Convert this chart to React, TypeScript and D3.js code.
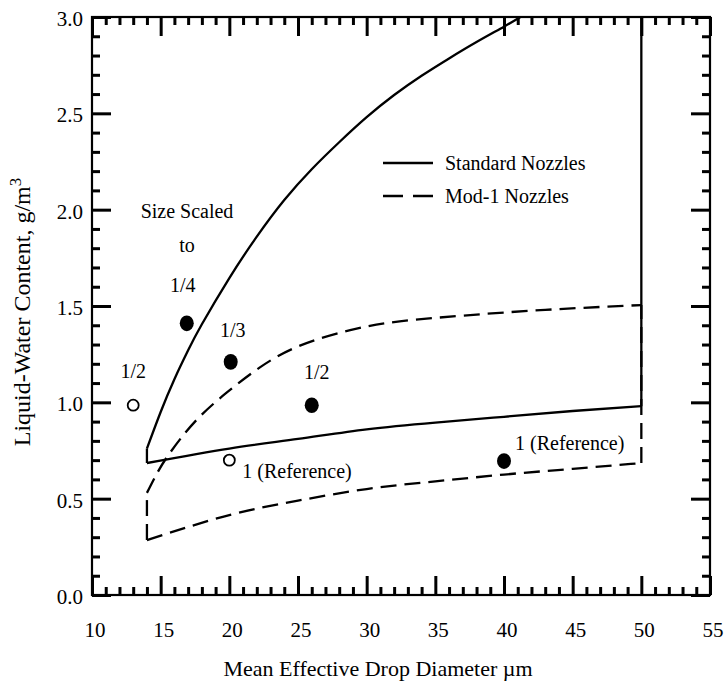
import React from "react";
import * as d3 from "d3";

// Standard nozzles envelope
const stdUpperX = [14, 15, 16, 17, 18, 20, 22, 24, 26, 28, 30, 32, 34, 36, 38, 40, 41.2];
const stdUpperY = [0.76, 0.95, 1.12, 1.27, 1.405, 1.645, 1.86, 2.05, 2.21, 2.35, 2.48, 2.595, 2.695, 2.785, 2.87, 2.95, 3.0];
const stdLowerX = [14, 20, 25, 30, 35, 40, 45, 50];
const stdLowerY = [0.685, 0.76, 0.81, 0.86, 0.895, 0.925, 0.955, 0.98];

// Mod-1 nozzles envelope
const modUpperX = [14, 14.8, 15.7, 17.5, 19.8, 22.2, 25, 28.8, 32.4, 37, 43, 50];
const modUpperY = [0.53, 0.64, 0.74, 0.9, 1.05, 1.18, 1.29, 1.375, 1.42, 1.45, 1.48, 1.505];
const modLowerX = [14, 20, 25, 30, 35, 40, 45, 50];
const modLowerY = [0.285, 0.415, 0.49, 0.55, 0.59, 0.625, 0.655, 0.685];

// Size-scaled test points
const openX = [13.0, 20.0];
const openY = [0.985, 0.7];
const openLabels = ["1/2", "1 (Reference)"];
const filledX = [16.9, 20.1, 26.0, 40.0];
const filledY = [1.41, 1.21, 0.985, 0.695];
const filledLabels = ["1/4", "1/3", "1/2", "1 (Reference)"];

const xTickLabels = ["10", "15", "20", "25", "30", "35", "40", "45", "50", "55"];
const yTickLabels = ["0.0", "0.5", "1.0", "1.5", "2.0", "2.5", "3.0"];

const W = 727;
const H = 687;
const M = { left: 92, right: 710, top: 17, bottom: 595 };
const FONT = "'Liberation Serif', 'Times New Roman', serif";

// label placement relative to each marker: [dx, dy, anchor]
const openLabelPos: [number, number, string][] = [
  [0, -27, "middle"],
  [13, 18, "start"],
];
const filledLabelPos: [number, number, string][] = [
  [-4, -31, "middle"],
  [2, -25, "middle"],
  [5, -26, "middle"],
  [11, -11, "start"],
];

export default function App() {
  const x = d3.scaleLinear().domain([10, 55]).range([M.left, M.right]);
  const y = d3.scaleLinear().domain([0, 3]).range([M.bottom, M.top]);

  const curve = (xs: number[], ys: number[]) =>
    d3
      .line<number>()
      .x((_, i) => x(xs[i]))
      .y((_, i) => y(ys[i]))
      .curve(d3.curveNatural)(xs) as string;

  const seg = (pts: [number, number][]) =>
    d3
      .line<[number, number]>()
      .x((p) => x(p[0]))
      .y((p) => y(p[1]))(pts) as string;

  const xMinor = d3.range(0, 46).map((i) => 10 + i);
  const yMinor = d3.range(0, 31).map((i) => i / 10);
  const majLen = 19;
  const minLen = 8;

  const xTicks = xMinor.map((v) => ({ p: x(v), L: v % 5 === 0 ? majLen : minLen }));
  const yTicks = yMinor.map((v, i) => ({ p: y(v), L: i % 5 === 0 ? majLen : minLen }));

  const lineW = 2.3;
  const dash = "16,8";
  const tw = 3;

  return (
    <svg
      width={W}
      height={H}
      viewBox={`0 0 ${W} ${H}`}
      style={{ position: "absolute", left: 0, top: 0, background: "#fff", fontFamily: FONT }}
    >
      <rect x={0} y={0} width={W} height={H} fill="#fff" />

      {/* frame */}
      <rect
        x={M.left}
        y={M.top}
        width={M.right - M.left}
        height={M.bottom - M.top}
        fill="none"
        stroke="#000"
        strokeWidth={2.2}
      />

      {/* ticks on all four sides, pointing inward */}
      {xTicks.map((t, i) => (
        <rect key={"xb" + i} x={t.p - 1} y={M.bottom - t.L} width={tw} height={t.L} fill="black" />
      ))}
      {xTicks.map((t, i) => (
        <rect key={"xt" + i} x={t.p - 1} y={M.top} width={tw} height={t.L} fill="black" />
      ))}
      {yTicks.map((t, i) => (
        <rect key={"yl" + i} x={M.left} y={t.p - 1} width={t.L} height={tw} fill="black" />
      ))}
      {yTicks.map((t, i) => (
        <rect key={"yr" + i} x={M.right - t.L} y={t.p - 1} width={t.L} height={tw} fill="black" />
      ))}

      {/* tick labels */}
      <g style={{ fontSize: 21, fontFamily: FONT }} fill="#000">
        {xTickLabels.map((t) => (
          <text key={"xl" + t} x={x(+t) + 3} y={637} textAnchor="middle">
            {t}
          </text>
        ))}
        {yTickLabels.map((t) => (
          <text key={"yl" + t} x={83} y={y(+t) + 9} textAnchor="end">
            {t}
          </text>
        ))}
      </g>

      {/* axis titles */}
      <g style={{ fontFamily: FONT }} fill="#000">
        <text x={378} y={676} textAnchor="middle" style={{ fontSize: 22 }}>
          Mean Effective Drop Diameter µm
        </text>
        <text
          transform={`translate(30, 312) rotate(-90)`}
          textAnchor="middle"
          style={{ fontSize: 24 }}
        >
          Liquid-Water Content, g/m
          <tspan dy={-9} style={{ fontSize: 17 }}>
            3
          </tspan>
        </text>
      </g>

      {/* Standard nozzles envelope */}
      <g fill="none" stroke="#000" strokeWidth={lineW}>
        <path d={curve(stdUpperX, stdUpperY)} />
        <path d={curve(stdLowerX, stdLowerY)} />
        <path d={seg([[14, 0.685], [14, 0.76]])} />
        <path d={seg([[50, 0.98], [50, 3.0]])} />
      </g>

      {/* Mod-1 nozzles envelope */}
      <g fill="none" stroke="#000" strokeWidth={lineW} strokeDasharray={dash}>
        <path d={curve(modUpperX, modUpperY)} />
        <path d={curve(modLowerX, modLowerY)} />
        <path d={seg([[14, 0.285], [14, 0.53]])} />
        <path d={seg([[50, 0.685], [50, 1.505]])} />
      </g>

      {/* test points */}
      {openX.map((v, i) => (
        <circle
          key={"o" + i}
          cx={x(v)}
          cy={y(openY[i])}
          r={5.5}
          fill="#fff"
          stroke="#000"
          strokeWidth={1.8}
        />
      ))}
      {filledX.map((v, i) => (
        <ellipse key={"f" + i} cx={x(v)} cy={y(filledY[i])} rx={7} ry={7.8} fill="#000" />
      ))}

      {/* point labels */}
      <g style={{ fontSize: 20, fontFamily: FONT }} fill="#000">
        {openLabels.map((t, i) => (
          <text
            key={"ol" + i}
            x={x(openX[i]) + openLabelPos[i][0]}
            y={y(openY[i]) + openLabelPos[i][1]}
            textAnchor={openLabelPos[i][2] as any}
          >
            {t}
          </text>
        ))}
        {filledLabels.map((t, i) => (
          <text
            key={"fl" + i}
            x={x(filledX[i]) + filledLabelPos[i][0]}
            y={y(filledY[i]) + filledLabelPos[i][1]}
            textAnchor={filledLabelPos[i][2] as any}
          >
            {t}
          </text>
        ))}
        <text x={187} y={218} textAnchor="middle">
          Size Scaled
        </text>
        <text x={187} y={252} textAnchor="middle">
          to
        </text>
      </g>

      {/* legend */}
      <g>
        <line x1={383} x2={433} y1={163} y2={163} stroke="#000" strokeWidth={lineW} />
        <line
          x1={383}
          x2={433}
          y1={196}
          y2={196}
          stroke="#000"
          strokeWidth={lineW}
          strokeDasharray="20,10"
        />
        <g style={{ fontSize: 20, fontFamily: FONT }} fill="#000">
          <text x={445} y={170}>
            Standard Nozzles
          </text>
          <text x={445} y={203}>
            Mod-1 Nozzles
          </text>
        </g>
      </g>
    </svg>
  );
}
